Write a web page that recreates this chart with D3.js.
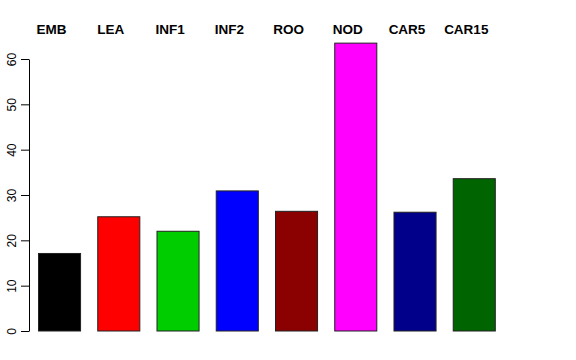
<!DOCTYPE html>
<html>
<head>
<meta charset="utf-8">
<script src="https://cdn.jsdelivr.net/npm/d3@7"></script>
<style>
  body { margin: 0; background: #fff; }
  svg { display: block; font-family: "Liberation Sans", Arial, sans-serif; }
</style>
</head>
<body>
<svg id="chart" width="576" height="360"></svg>
<script>
const categories = ["EMB", "LEA", "INF1", "INF2", "ROO", "NOD", "CAR5", "CAR15"];
const values = [17.1, 25.2, 22.0, 30.9, 26.4, 63.5, 26.2, 33.6];
const barColors = ["#000000", "#ff0000", "#00cd00", "#0000ff", "#8b0000", "#ff00ff", "#00008b", "#006400"];
const yTicks = [0, 10, 20, 30, 40, 50, 60];

const svg = d3.select("#chart");

const xScale = d3.scaleBand().domain(categories)
                .range([38.5, 495.3])
                .paddingInner(0.29).paddingOuter(0).align(0);
const yScale = d3.scaleLinear().domain([0, 60]).range([331, 59]);

// bars
svg.append("g").selectAll("rect")
    .data(categories)
    .join("rect")
    .attr("x", d => xScale(d))
    .attr("y", (d, i) => yScale(values[i]))
    .attr("width", xScale.bandwidth())
    .attr("height", (d, i) => yScale(0) - yScale(values[i]))
    .attr("fill", (d, i) => barColors[i])
    .attr("stroke", "#222")
    .attr("stroke-width", 1);

// left axis, R style
const leftAxis = d3.axisLeft(yScale).tickValues(yTicks).tickSize(8).tickSizeOuter(0).tickPadding(4);
const axisG = svg.append("g")
    .attr("transform", "translate(29,0)")
    .call(leftAxis);
axisG.select(".domain").attr("stroke", "#000");
axisG.selectAll(".tick line").attr("stroke", "#000");
axisG.selectAll(".tick text")
    .attr("x", 0).attr("dy", 0)
    .attr("transform", "translate(-13,0) rotate(-90)")
    .attr("text-anchor", "middle")
    .attr("font-size", 12)
    .attr("font-family", "Liberation Sans, Arial, sans-serif")
    .attr("fill", "#000");

// category labels on top
svg.append("g").selectAll("text")
    .data(categories)
    .join("text")
    .attr("x", d => xScale(d) + xScale.bandwidth() / 2 - 8)
    .attr("y", 34)
    .attr("text-anchor", "middle")
    .attr("font-weight", "bold")
    .attr("font-size", 13.5)
    .text(d => d);
</script>
</body>
</html>
